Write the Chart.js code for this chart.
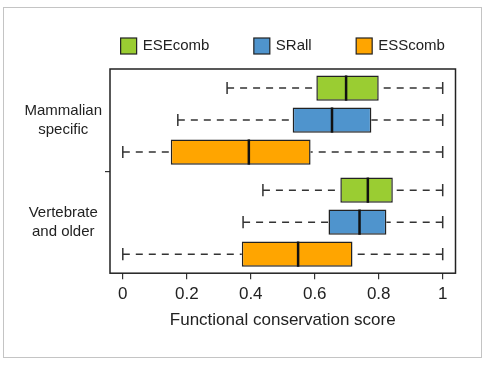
<!DOCTYPE html>
<html>
<head>
<meta charset="utf-8">
<script src="https://cdn.jsdelivr.net/npm/chart.js@4.4.0/dist/chart.umd.min.js"></script>
<style>
  body { margin: 0; background: #fff; }
  #wrap { position: relative; width: 488px; height: 366px; }
  #frame { position: absolute; left: 3px; top: 7px; width: 477px; height: 349px; border: 1px solid #c4c4c4; }
  #chart { position: absolute; left: 0; top: 0; }
</style>
</head>
<body>
<div id="wrap">
  <div id="frame"></div>
  <canvas id="chart" width="488" height="366"></canvas>
</div>
<script>
// Data
const categories = [['Mammalian', 'specific'], ['Vertebrate', 'and older']];
const seriesNames = ['ESEcomb', 'SRall', 'ESScomb'];
// five-number summary per category: [min, q1, median, q3, max]
const eseComb = [[0.326, 0.605, 0.698, 0.800, 1.0], [0.438, 0.680, 0.766, 0.844, 1.0]];
const srAll = [[0.172, 0.531, 0.654, 0.777, 1.0], [0.376, 0.643, 0.740, 0.824, 1.0]];
const essComb = [[0.0, 0.150, 0.394, 0.587, 1.0], [0.0, 0.372, 0.548, 0.718, 1.0]];
const xTicks = [0, 0.2, 0.4, 0.6, 0.8, 1];

const summaries = [eseComb, srAll, essComb];
const seriesColors = ['#9acd32', '#4f94cd', '#ffa500'];
const FONT = "'Liberation Sans', Arial, Helvetica, sans-serif";
const INK = '#222';

// Whiskers, staples and medians on top of the floating bars
const boxplotExtras = {
    id: 'boxplotExtras',
    afterDatasetsDraw(chart) {
        const ctx = chart.ctx;
        const xs = chart.scales.x;
        ctx.save();
        chart.data.datasets.forEach((ds, di) => {
            const meta = chart.getDatasetMeta(di);
            meta.data.forEach((bar, i) => {
                const [lo, q1, med, q3, hi] = summaries[di][i];
                const y = bar.y;
                const h = bar.height;
                const cap = h * 0.24;

                // dashed whiskers
                ctx.strokeStyle = '#333';
                ctx.lineWidth = 1.5;
                ctx.setLineDash([7, 6]);
                ctx.beginPath();
                ctx.moveTo(xs.getPixelForValue(lo), y);
                ctx.lineTo(xs.getPixelForValue(q1), y);
                ctx.moveTo(xs.getPixelForValue(hi), y);
                ctx.lineTo(xs.getPixelForValue(q3), y);
                ctx.stroke();

                // staples
                ctx.setLineDash([]);
                ctx.beginPath();
                [lo, hi].forEach(v => {
                    const px = xs.getPixelForValue(v);
                    ctx.moveTo(px, y - cap);
                    ctx.lineTo(px, y + cap);
                });
                ctx.stroke();

                // median
                ctx.strokeStyle = '#111';
                ctx.lineWidth = 2.5;
                ctx.beginPath();
                const mx = xs.getPixelForValue(med);
                ctx.moveTo(mx, y - h / 2);
                ctx.lineTo(mx, y + h / 2);
                ctx.stroke();
            });
        });
        ctx.restore();
    }
};

// Plot frame and the legend row above it
const frameAndLegend = {
    id: 'frameAndLegend',
    afterDraw(chart) {
        const ctx = chart.ctx;
        const area = chart.chartArea;
        ctx.save();
        ctx.strokeStyle = INK;
        ctx.lineWidth = 1.5;
        ctx.strokeRect(area.left, area.top, area.right - area.left, area.bottom - area.top);

        const box = 16, gap = 6, spacing = 44.5, boxTop = 38;
        ctx.font = '15px ' + FONT;
        const widths = chart.data.datasets.map(ds => box + gap + ctx.measureText(ds.label).width);
        const total = widths.reduce((a, b) => a + b, 0) + spacing * (widths.length - 1);
        let x = (area.left + area.right) / 2 - total / 2;
        chart.data.datasets.forEach((ds, i) => {
            ctx.fillStyle = ds.backgroundColor;
            ctx.fillRect(x, boxTop, box, box);
            ctx.strokeStyle = INK;
            ctx.lineWidth = 1.2;
            ctx.strokeRect(x, boxTop, box, box);
            ctx.fillStyle = INK;
            ctx.textBaseline = 'middle';
            ctx.textAlign = 'left';
            ctx.fillText(ds.label, x + box + gap, boxTop + box / 2);
            x += widths[i] + spacing;
        });
        ctx.restore();
    }
};

const canvas = document.getElementById('chart');
const ctx = canvas.getContext('2d');

new Chart(ctx, {
    type: 'bar',
    data: {
        labels: categories,
        datasets: seriesNames.map((name, i) => ({
            label: name,
            data: summaries[i].map(s => [s[1], s[3]]),
            backgroundColor: seriesColors[i],
            borderColor: INK,
            borderWidth: 1.5,
            borderSkipped: false,
            categoryPercentage: 0.94,
            barPercentage: 0.79
        }))
    },
    options: {
        indexAxis: 'y',
        responsive: false,
        animation: false,
        layout: {
            padding: { left: 24, right: 32.5, top: 69, bottom: 35 }
        },
        plugins: {
            legend: { display: false },
            tooltip: { enabled: false }
        },
        scales: {
            x: {
                type: 'linear',
                min: -0.04,
                max: 1.04,
                afterBuildTicks: axis => {
                    axis.ticks = xTicks.map(v => ({ value: v }));
                },
                grid: {
                    drawOnChartArea: false,
                    tickLength: 6,
                    color: '#333',
                    lineWidth: 1.2
                },
                border: { display: false },
                ticks: {
                    padding: 5,
                    autoSkip: false,
                    maxRotation: 0,
                    color: INK,
                    font: { family: FONT, size: 17 },
                    callback: v => String(+Number(v).toFixed(1))
                },
                title: {
                    display: true,
                    text: 'Functional conservation score',
                    color: INK,
                    font: { family: FONT, size: 17 },
                    padding: { top: 1, bottom: 0 }
                }
            },
            y: {
                type: 'category',
                afterFit: scale => {
                    scale.width = 86;
                },
                grid: {
                    offset: true,
                    drawOnChartArea: false,
                    tickLength: 5,
                    lineWidth: 1.2,
                    color: c => (c.index === 1 ? '#333' : 'rgba(0,0,0,0)')
                },
                border: { display: false },
                ticks: {
                    padding: 3,
                    crossAlign: 'center',
                    color: INK,
                    font: { family: FONT, size: 15, lineHeight: 1.27 }
                }
            }
        }
    },
    plugins: [boxplotExtras, frameAndLegend]
});
</script>
</body>
</html>
